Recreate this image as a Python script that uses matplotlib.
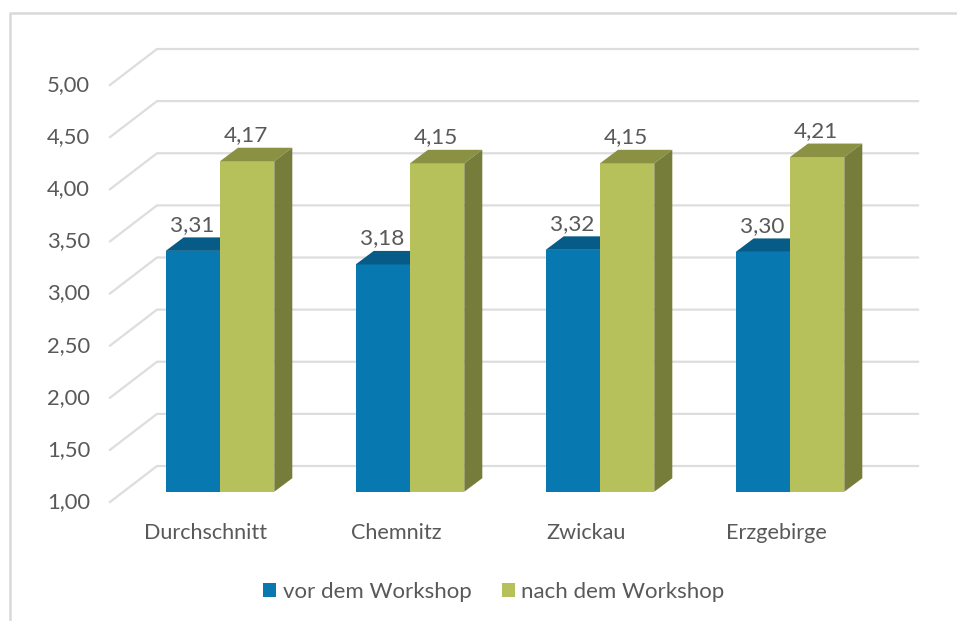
import matplotlib
matplotlib.use("Agg")
import matplotlib.pyplot as plt
from matplotlib.patches import Patch, Polygon

plt.rcParams['font.family'] = ['Lato', 'DejaVu Sans']

# Data
categories = ["Durchschnitt", "Chemnitz", "Zwickau", "Erzgebirge"]
vor = [3.31, 3.18, 3.32, 3.30]
nach = [4.17, 4.15, 4.15, 4.21]
y_ticks = [1.0, 1.5, 2.0, 2.5, 3.0, 3.5, 4.0, 4.5, 5.0]

# Colours
text_col = "#595959"
grid_col = "#dddddd"
blue = ("#0878b0", "#065c86", "#05496a")
green = ("#b7c15c", "#8a9143", "#767c39")

# Pixel scale of the axes: one category = 190 px, one value unit = 104.25 px
W, H = 957, 621
x_unit, y_unit = 190.0, 104.25
x0_px, y1_px = 220.0, 491.7

fig = plt.figure(figsize=(W / 100, H / 100), dpi=100)
ax = fig.add_axes([0, 0, 1, 1])
ax.set_xlim(-x0_px / x_unit, (W - x0_px) / x_unit)
ax.set_ylim(1 - (H - y1_px) / y_unit, 1 + y1_px / y_unit)
ax.axis("off")

bar_w = 54.3 / x_unit
dx, dy = 18.0 / x_unit, 13.5 / y_unit  # bar depth

# Back wall and left side of the 3d plot area
wall_x = (157 - x0_px) / x_unit
wall_end = (918 - x0_px) / x_unit
wall_dy = (491.7 - 466) / y_unit
side_x = (110 - x0_px) / x_unit
side_dy = (502 - 491.7) / y_unit
for v in y_ticks:
    y_back = v + wall_dy
    y_front = v - side_dy
    ax.plot([side_x, wall_x, wall_end], [y_front, y_back, y_back], color=grid_col, lw=1.6,
            solid_joinstyle="miter", zorder=1)
    ax.text(-130 / x_unit, y_front, f"{v:.2f}".replace(".", ","), ha="right", va="center",
            color=text_col, fontsize=15.8)


def draw_bar(left, value, cols):
    right = left + bar_w
    ax.add_patch(Polygon([(left, 1), (right, 1), (right, value), (left, value)], fc=cols[0], ec="none", zorder=3))
    ax.add_patch(Polygon([(left, value), (right, value), (right + dx, value + dy), (left + dx, value + dy)],
                         fc=cols[1], ec="none", zorder=3))
    ax.add_patch(Polygon([(right, 1), (right + dx, 1 + dy), (right + dx, value + dy), (right, value)],
                         fc=cols[2], ec="none", zorder=3))
    ax.text(left + bar_w / 2 - 1 / x_unit, value + 26 / y_unit, f"{value:.2f}".replace(".", ","), ha="center",
            va="center", color=text_col, fontsize=16.2, zorder=4)


for i, name in enumerate(categories):
    draw_bar(i - bar_w, vor[i], blue)
    draw_bar(i, nach[i], green)
    ax.text(i - 14 / x_unit, 1 - 41 / y_unit, name, ha="center", va="center", color=text_col, fontsize=15.6)

# Chart frame, only top and left are visible in the crop
ax.plot([(10 - x0_px) / x_unit, (10 - x0_px) / x_unit, (W - x0_px) / x_unit],
        [ax.get_ylim()[0], 1 + (491.7 - 13) / y_unit, 1 + (491.7 - 13) / y_unit],
        color="#d9d9d9", lw=1.8, zorder=1)

handles = [Patch(fc=blue[0], label="vor dem Workshop"), Patch(fc=green[0], label="nach dem Workshop")]
fig.legend(handles=handles, loc="center", bbox_to_anchor=(494 / W, 1 - 592 / H), ncol=2, frameon=False,
           fontsize=16, labelcolor=text_col, handlelength=0.58, handleheight=0.58, handletextpad=0.3,
           columnspacing=1.35)

fig.savefig("out.png", dpi=100)
